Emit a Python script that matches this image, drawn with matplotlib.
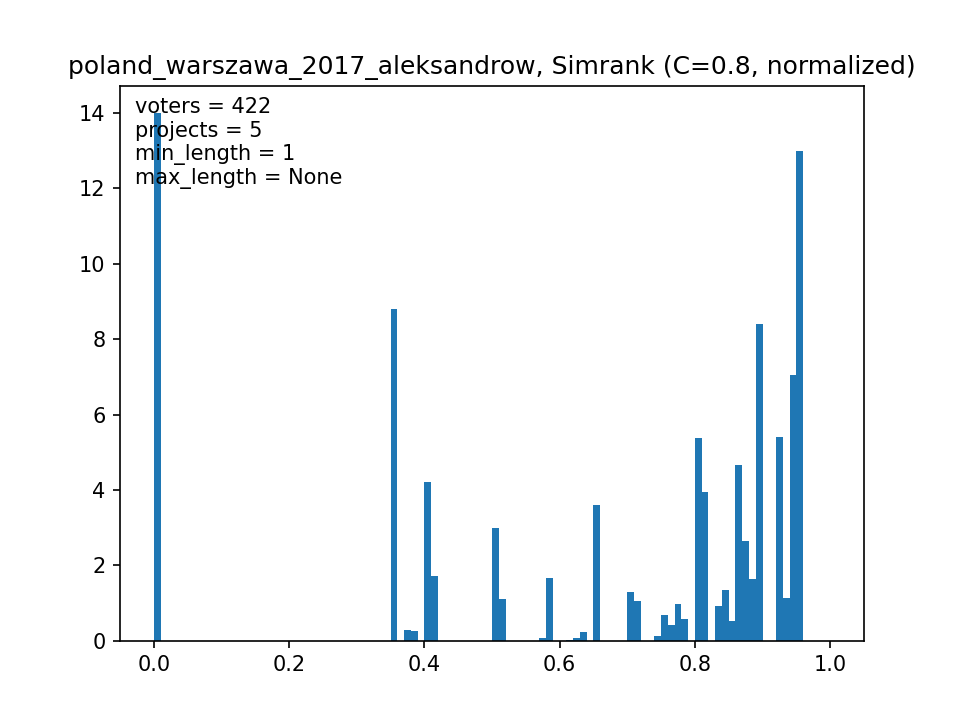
import numpy as np
import matplotlib
matplotlib.use("Agg")
import matplotlib.pyplot as plt

title = "poland_warszawa_2017_aleksandrow, Simrank (C=0.8, normalized)"
info_lines = ["voters = 422", "projects = 5", "min_length = 1", "max_length = None"]

n_bins = 100
bin_range = (0.0, 1.0)

# bin index -> density height
bin_index = [0, 35, 37, 38, 40, 41, 50, 51, 57, 58, 61, 62, 63, 65, 70, 71,
             74, 75, 76, 77, 78, 80, 81, 83, 84, 85, 86, 87, 88, 89, 92, 93, 94, 95]
density = [14.0, 8.80, 0.29, 0.27, 4.22, 1.72, 3.00, 1.11, 0.08, 1.67, 0.02, 0.08, 0.24, 3.61, 1.30, 1.06,
           0.13, 0.69, 0.42, 0.98, 0.58, 5.38, 3.95, 0.93, 1.35, 0.53, 4.67, 2.65, 1.64, 8.41, 5.41, 1.14, 7.05, 12.99]

width = (bin_range[1] - bin_range[0]) / n_bins
centers = [bin_range[0] + (i + 0.5) * width for i in bin_index]

fig, ax = plt.subplots(figsize=(6.4, 4.8), dpi=150)
ax.hist(centers, bins=n_bins, range=bin_range, weights=density)
ax.set_title(title)
ax.text(0.02, 0.98, "\n".join(info_lines), transform=ax.transAxes, va="top", ha="left")
fig.savefig("out.png", dpi=150)
